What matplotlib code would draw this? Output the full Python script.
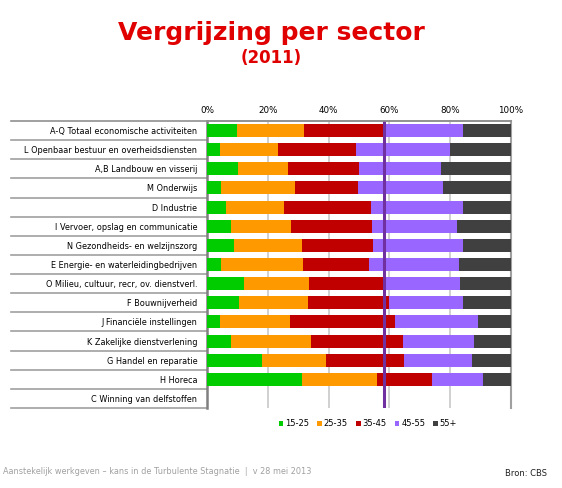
import matplotlib
matplotlib.use("Agg")
import matplotlib.pyplot as plt
import matplotlib.transforms as mtransforms
import numpy as np

sectors = [
    "A-Q Totaal economische activiteiten",
    "L Openbaar bestuur en overheidsdiensten",
    "A,B Landbouw en visserij",
    "M Onderwijs",
    "D Industrie",
    "I Vervoer, opslag en communicatie",
    "N Gezondheids- en welzijnszorg",
    "E Energie- en waterleidingbedrijven",
    "O Milieu, cultuur, recr, ov. dienstverl.",
    "F Bouwnijverheid",
    "J Financiële instellingen",
    "K Zakelijke dienstverlening",
    "G Handel en reparatie",
    "H Horeca",
    "C Winning van delfstoffen",
]
age_groups = ["15-25", "25-35", "35-45", "45-55", "55+"]
s15_25 = [9.9, 4.2, 10.1, 4.6, 6.4, 8.0, 8.8, 4.5, 12.2, 10.4, 4.4, 7.8, 18.2, 31.4, 0]
s25_35 = [22.0, 19.2, 16.5, 24.2, 18.9, 19.5, 22.6, 27.0, 21.4, 22.8, 23.0, 26.3, 20.8, 24.5, 0]
s35_45 = [26.0, 25.5, 23.5, 21.0, 28.8, 26.9, 23.3, 21.9, 24.7, 26.8, 34.3, 30.3, 25.9, 18.1, 0]
s45_55 = [26.3, 31.0, 26.9, 27.8, 30.2, 27.9, 29.4, 29.5, 24.9, 24.2, 27.3, 23.3, 22.3, 16.7, 0]
s55p = [15.8, 20.1, 23.0, 22.4, 15.7, 17.7, 15.9, 17.1, 16.8, 15.8, 11.0, 12.3, 12.8, 9.3, 0]
avg_line = 58.1
xticks = [0, 20, 40, 60, 80, 100]
colors = ["#00CC00", "#FF9900", "#C00000", "#9966FF", "#404040"]

fig = plt.figure(figsize=(5.62, 4.88), dpi=100)
ax = fig.add_axes([207/562, 1-408/488, 304/562, (408-121)/488])

series = [s15_25, s25_35, s35_45, s45_55, s55p]
y = np.arange(len(sectors))
left = np.zeros(len(sectors))
for vals, c, lab in zip(series, colors, age_groups):
    v = np.array(vals)
    ax.barh(y, v, left=left, height=0.68, color=c, label=lab, zorder=3)
    left += v

ax.set_ylim(len(sectors)-0.5, -0.5)
ax.set_xlim(0, 100)
ax.axvline(avg_line, color="#7030A0", lw=2.2, zorder=4)

ax.set_xticks(xticks)
ax.set_xticklabels([f"{t}%" for t in xticks])
ax.xaxis.tick_top()
ax.tick_params(axis="x", length=0, labelsize=6.3, pad=4)
ax.grid(axis="x", color="#C8C8C8", lw=1.2, zorder=0)
ax.set_yticks(y)
ax.set_yticklabels(sectors, fontsize=5.9)
ax.tick_params(axis="y", length=0, pad=7)

ax.spines["bottom"].set_visible(False)
ax.spines["left"].set_color("#808080")
ax.spines["left"].set_linewidth(1.8)
ax.spines["right"].set_color("#A0A0A0")
ax.spines["right"].set_linewidth(1.5)
ax.spines["top"].set_color("#909090")
ax.spines["top"].set_linewidth(1.2)

trans = mtransforms.blended_transform_factory(ax.transAxes, ax.transData)
x0 = (11-207)/304
ax.plot([x0, 1], [-0.5, -0.5], transform=trans, color="#909090", lw=1.2, clip_on=False, zorder=5)
for b in np.arange(0.5, len(sectors), 1.0):
    ax.plot([x0, 0], [b, b], transform=trans, color="#A0A0A0", lw=1.2, clip_on=False)

fig.legend(loc="center", bbox_to_anchor=(368/562, 1-424/488), ncol=5, frameon=False,
           fontsize=6, handlelength=0.55, handleheight=0.55, handletextpad=0.2,
           columnspacing=1.0)

fig.text(271/562, 1-33/488, "Vergrijzing per sector", color="#E00000", fontsize=18,
         fontweight="bold", ha="center", va="center")
fig.text(271/562, 1-58/488, "(2011)", color="#E00000", fontsize=12,
         fontweight="bold", ha="center", va="center")
fig.text(3/562, 1-472/488,
         "Aanstekelijk werkgeven \u2013 kans in de Turbulente Stagnatie  |  v 28 mei 2013",
         color="#A0A0A0", fontsize=5.9, ha="left", va="center")
fig.text(547/562, 1-473/488, "Bron: CBS", color="#202020", fontsize=6,
         ha="right", va="center")

fig.savefig("out.png", dpi=100)
